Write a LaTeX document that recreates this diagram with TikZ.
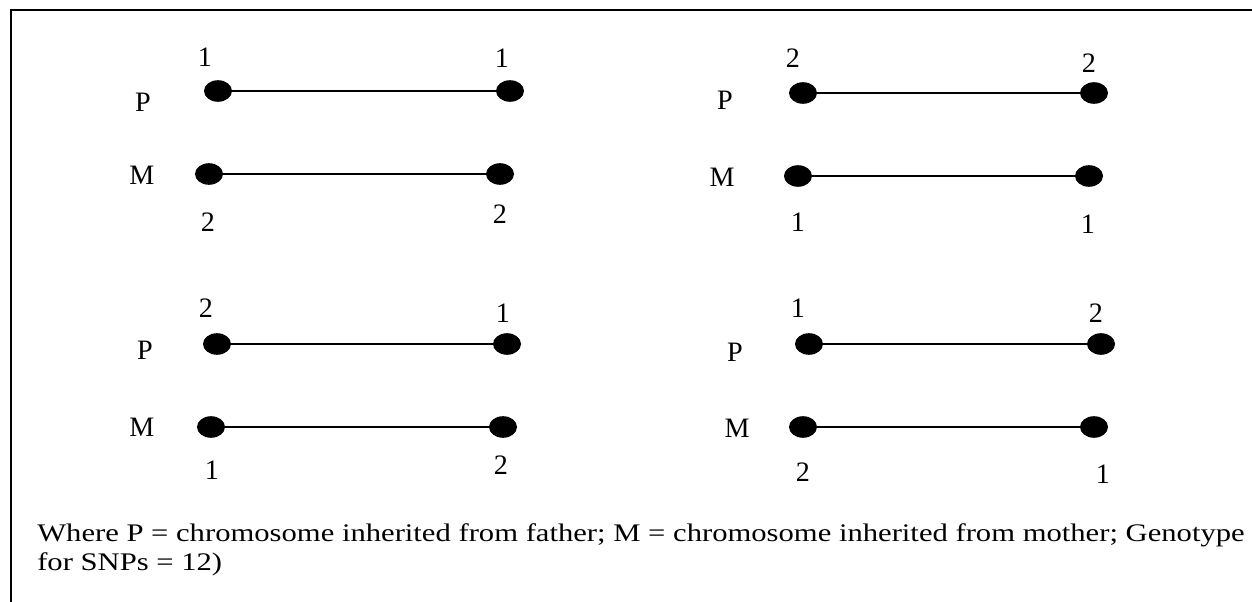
\documentclass[tikz,border=0pt]{standalone}
\usepackage{fontspec}
\setmainfont{Liberation Serif}
\newfontfamily\capfont[FakeStretch=1.21]{Liberation Serif}
\usetikzlibrary{shapes.geometric}

\tikzset{
  allele/.style={ellipse, fill=black, inner sep=0pt, minimum width=0.7cm, minimum height=0.54cm},
  chrom/.style={line width=1.2pt},
  lab/.style={font=\fontsize{20}{22}\selectfont, inner sep=0pt},
  note/.style={font=\capfont\fontsize{18}{20}\selectfont, inner sep=0pt, anchor=base west}
}

\begin{document}
\begin{tikzpicture}[x=0.025cm,y=-0.025cm]
\useasboundingbox (0,0) rectangle (1252,602);
\draw[line width=1.4pt] (11,602) -- (11,10) -- (1252,10);

% top left
\draw (143,102) node[lab] (pA) {P};
\draw (142,175) node[lab] (mA) {M};
\draw (218,91) node[allele] (pAl) {};
\draw (510,91) node[allele] (pAr) {};
\draw (209,174) node[allele] (mAl) {};
\draw (500,174) node[allele] (mAr) {};
\draw (205,57) node[lab] (pAlx) {1};
\draw (502,58) node[lab] (pArx) {1};
\draw (208,222) node[lab] (mAlx) {2};
\draw (500,214) node[lab] (mArx) {2};
\draw[chrom] (pAl) -- (pAr);
\draw[chrom] (mAl) -- (mAr);

% top right
\draw (725,100) node[lab] (pB) {P};
\draw (722,177) node[lab] (mB) {M};
\draw (803,93) node[allele] (pBl) {};
\draw (1094,93) node[allele] (pBr) {};
\draw (798,176) node[allele] (mBl) {};
\draw (1089,176) node[allele] (mBr) {};
\draw (793,58) node[lab] (pBlx) {2};
\draw (1089,63) node[lab] (pBrx) {2};
\draw (798,222) node[lab] (mBlx) {1};
\draw (1088,224) node[lab] (mBrx) {1};
\draw[chrom] (pBl) -- (pBr);
\draw[chrom] (mBl) -- (mBr);

% bottom left
\draw (145,350) node[lab] (pC) {P};
\draw (142,427) node[lab] (mC) {M};
\draw (217,344) node[allele] (pCl) {};
\draw (507,344) node[allele] (pCr) {};
\draw (211,427) node[allele] (mCl) {};
\draw (503,427) node[allele] (mCr) {};
\draw (206,308) node[lab] (pClx) {2};
\draw (503,313) node[lab] (pCrx) {1};
\draw (212,470) node[lab] (mClx) {1};
\draw (501,465) node[lab] (mCrx) {2};
\draw[chrom] (pCl) -- (pCr);
\draw[chrom] (mCl) -- (mCr);

% bottom right
\draw (735,352) node[lab] (pD) {P};
\draw (737,428) node[lab] (mD) {M};
\draw (809,344) node[allele] (pDl) {};
\draw (1101,344) node[allele] (pDr) {};
\draw (803,427) node[allele] (mDl) {};
\draw (1094,427) node[allele] (mDr) {};
\draw (798,308) node[lab] (pDlx) {1};
\draw (1096,313) node[lab] (pDrx) {2};
\draw (803,472) node[lab] (mDlx) {2};
\draw (1103,474) node[lab] (mDrx) {1};
\draw[chrom] (pDl) -- (pDr);
\draw[chrom] (mDl) -- (mDr);

\draw (37,542) node[note] (noteA) {Where P = chromosome inherited from father; M = chromosome inherited from mother; Genotype};
\draw (37,570.5) node[note] (noteB) {for SNPs = 12)};
\end{tikzpicture}
\end{document}
